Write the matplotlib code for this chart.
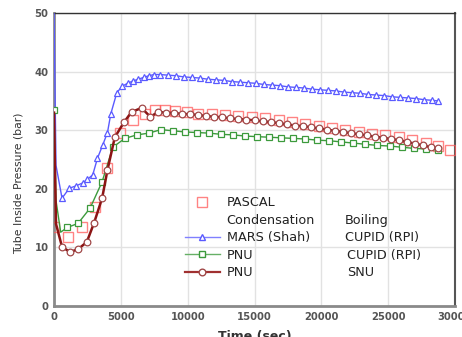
import matplotlib
matplotlib.use("Agg")
import matplotlib.pyplot as plt
from matplotlib.lines import Line2D

plt.rcParams['font.family'] = ['DejaVu Sans']

# ---------------- data ----------------
mars_t = [0, 150, 600, 1150, 1650, 2150, 2500, 2900, 3250, 3650, 4000, 4250, 4700,
          5100, 5500, 5900, 6300, 6700, 7100, 7500, 7900, 8500, 9100, 9700, 10300,
          10900, 11500, 12100, 12700, 13300, 13900, 14500, 15100, 15700, 16300,
          16900, 17500, 18100, 18700, 19300, 19900, 20500, 21100, 21700, 22300,
          22900, 23500, 24100, 24700, 25300, 25900, 26500, 27100, 27700, 28300, 28700]
mars_p = [50.0, 24.0, 18.4, 20.1, 20.5, 21.0, 21.6, 22.4, 25.2, 27.5, 29.6, 32.8, 36.4,
          37.5, 38.0, 38.4, 38.7, 39.0, 39.3, 39.5, 39.5, 39.4, 39.3, 39.1, 39.0,
          38.9, 38.7, 38.6, 38.5, 38.3, 38.2, 38.1, 38.0, 37.8, 37.7,
          37.6, 37.4, 37.3, 37.2, 37.0, 36.9, 36.8, 36.7, 36.5, 36.4,
          36.3, 36.1, 36.0, 35.9, 35.7, 35.6, 35.5, 35.4, 35.2, 35.1, 35.0]

pnu_g_t = [0, 150, 500, 1000, 1800, 2700, 3600, 4400, 5300, 6200, 7100, 8000, 8900,
           9800, 10700, 11600, 12500, 13400, 14300, 15200, 16100, 17000, 17900,
           18800, 19700, 20600, 21500, 22400, 23300, 24200, 25100, 26000, 26900,
           27800, 28700]
pnu_g_p = [33.4, 18.0, 12.6, 13.4, 14.1, 16.7, 21.2, 27.1, 28.6, 29.2, 29.5, 30.1, 29.9,
           29.7, 29.6, 29.5, 29.3, 29.2, 29.0, 28.9, 28.8, 28.7, 28.6,
           28.5, 28.3, 28.2, 28.0, 27.8, 27.6, 27.4, 27.3, 27.1, 26.9,
           26.8, 26.6]

snu_t = [0, 150, 600, 1200, 1800, 2450, 3000, 3600, 4000, 4550, 5250, 5800, 6550,
         7200, 7800, 8400, 9000, 9600, 10200, 10800, 11400, 12000, 12600, 13200,
         13800, 14400, 15000, 15600, 16200, 16800, 17400, 18000, 18600, 19200,
         19800, 20400, 21000, 21600, 22200, 22800, 23400, 24000, 24600, 25200,
         25800, 26400, 27000, 27600, 28200, 28700]
snu_p = [33.0, 14.0, 10.1, 9.2, 9.7, 10.9, 14.2, 18.4, 23.2, 28.8, 31.4, 33.1, 33.8,
         32.3, 33.1, 33.0, 32.9, 32.8, 32.7, 32.6, 32.4, 32.3, 32.2, 32.0,
         31.9, 31.8, 31.7, 31.5, 31.4, 31.2, 31.0, 30.8, 30.7, 30.5,
         30.3, 30.1, 29.9, 29.7, 29.5, 29.3, 29.1, 28.9, 28.7, 28.5,
         28.3, 28.0, 27.7, 27.4, 27.1, 26.9]

pascal_t = [0, 1050, 2100, 3050, 4000, 4950, 5900, 6800, 7550, 8300, 9050, 9950,
            10800, 11800, 12800, 13800, 14800, 15800, 16800, 17800, 18800, 19800,
            20800, 21800, 22800, 23800, 24800, 25800, 26800, 27800, 28700, 29600]
pascal_p = [13.5, 11.8, 13.5, 16.9, 23.5, 29.5, 31.7, 32.8, 33.4, 33.4, 33.3, 33.1,
            32.8, 32.8, 32.6, 32.4, 32.3, 32.0, 31.7, 31.4, 31.1, 30.8,
            30.4, 30.0, 29.7, 29.4, 29.2, 28.8, 28.3, 27.8, 27.3, 26.7]

x_ticks = [0, 5000, 10000, 15000, 20000, 25000, 30000]
y_ticks = [0, 10, 20, 30, 40, 50]

cond_labels = ["Condensation", "MARS (Shah)", "PNU", "PNU"]
boil_labels = ["Boiling", "CUPID (RPI)", "CUPID (RPI)", "SNU"]

# ---------------- figure ----------------
W, H = 462, 337
fig = plt.figure(figsize=(W / 100, H / 100), dpi=100)
ax = fig.add_axes([54 / W, 1 - 306 / H, (455 - 54) / W, (306 - 13) / H])

blue = '#5a5aff'
green = '#3c9a3c'
dred = '#8c1414'
pred = '#ff5a5a'

l_mars, = ax.plot(mars_t, mars_p, '-', color=blue, lw=1.0, marker='^', ms=5,
                  mfc='white', mec=blue, mew=0.9, markevery=list(range(2, len(mars_t))),
                  zorder=4)
l_g, = ax.plot(pnu_g_t, pnu_g_p, '-', color=green, lw=1.0, marker='s', ms=4,
               mfc='white', mec=green, mew=0.9,
               markevery=[0] + list(range(3, len(pnu_g_t))), zorder=4)
l_r, = ax.plot(snu_t, snu_p, '-', color=dred, lw=1.8, marker='o', ms=4.8,
               mfc='white', mec='#a04848', mew=0.9,
               markevery=list(range(2, len(snu_t))), zorder=5)
l_p, = ax.plot(pascal_t, pascal_p, 's', ms=6.8, mfc='none', mec=pred, mew=1.0,
               linestyle='none', alpha=0.75, zorder=3)

ax.set_xlim(0, 30000)
ax.set_ylim(0, 50)
ax.set_xticks(x_ticks)
ax.set_yticks(y_ticks)
ax.grid(True, color='#e2e2e2', lw=1.0)
ax.set_axisbelow(True)
ax.tick_params(length=0, labelsize=7.2, labelcolor='#555555', pad=4)
for lab in ax.get_xticklabels() + ax.get_yticklabels():
    lab.set_fontweight('bold')

ax.spines['left'].set_color('#8a8a8a')
ax.spines['left'].set_linewidth(2.0)
ax.spines['bottom'].set_color('#8a8a8a')
ax.spines['bottom'].set_linewidth(2.0)
ax.spines['top'].set_color('#333333')
ax.spines['top'].set_linewidth(1.0)
ax.spines['right'].set_color('#555555')
ax.spines['right'].set_linewidth(1.5)

ax.set_xlabel('Time (sec)', fontsize=9, fontweight='bold', color='#333333', labelpad=6)
fig.text(18.5 / W, 1 - 183 / H, 'Tube Inside Pressure (bar)', rotation=90,
         ha='center', va='center', fontsize=7.8, color='#333333')

blank = Line2D([], [], linestyle='none', marker=None)
pascal_h = Line2D([], [], linestyle='none', marker='s', ms=6.8, mfc='none', mec=pred,
                  mew=1.0, alpha=0.75)
mars_h = Line2D([], [], color='#8080ff', lw=1.0, marker='^', ms=5, mfc='white', mec=blue)
g_h = Line2D([], [], color='#66b066', lw=1.0, marker='s', ms=4, mfc='white', mec=green)
r_h = Line2D([], [], color='#a03030', lw=1.6, marker='o', ms=4.8, mfc='white', mec='#a04848')

leg = ax.legend([pascal_h, blank, mars_h, g_h, r_h],
                ["PASCAL"] + cond_labels,
                loc='upper left',
                bbox_to_anchor=((185 - 54) / 401, (306 - 196) / 293),
                frameon=False, fontsize=9.2, borderpad=0, borderaxespad=0,
                handlelength=2.7, handletextpad=0.55, labelspacing=0.36)
for t in leg.get_texts():
    t.set_color('#222222')

fig.canvas.draw()
inv = fig.transFigure.inverted()
texts = leg.get_texts()
xs = [345, 345, 347, 347]
for i, lab in enumerate(boil_labels):
    bb = texts[i + 1].get_window_extent()
    ycen = (bb.y0 + bb.y1) / 2
    fx, fy = inv.transform((xs[i], ycen))
    fig.text(fx, fy, lab, ha='left', va='center', fontsize=9.2, color='#222222')

fig.savefig('out.png', dpi=100)
